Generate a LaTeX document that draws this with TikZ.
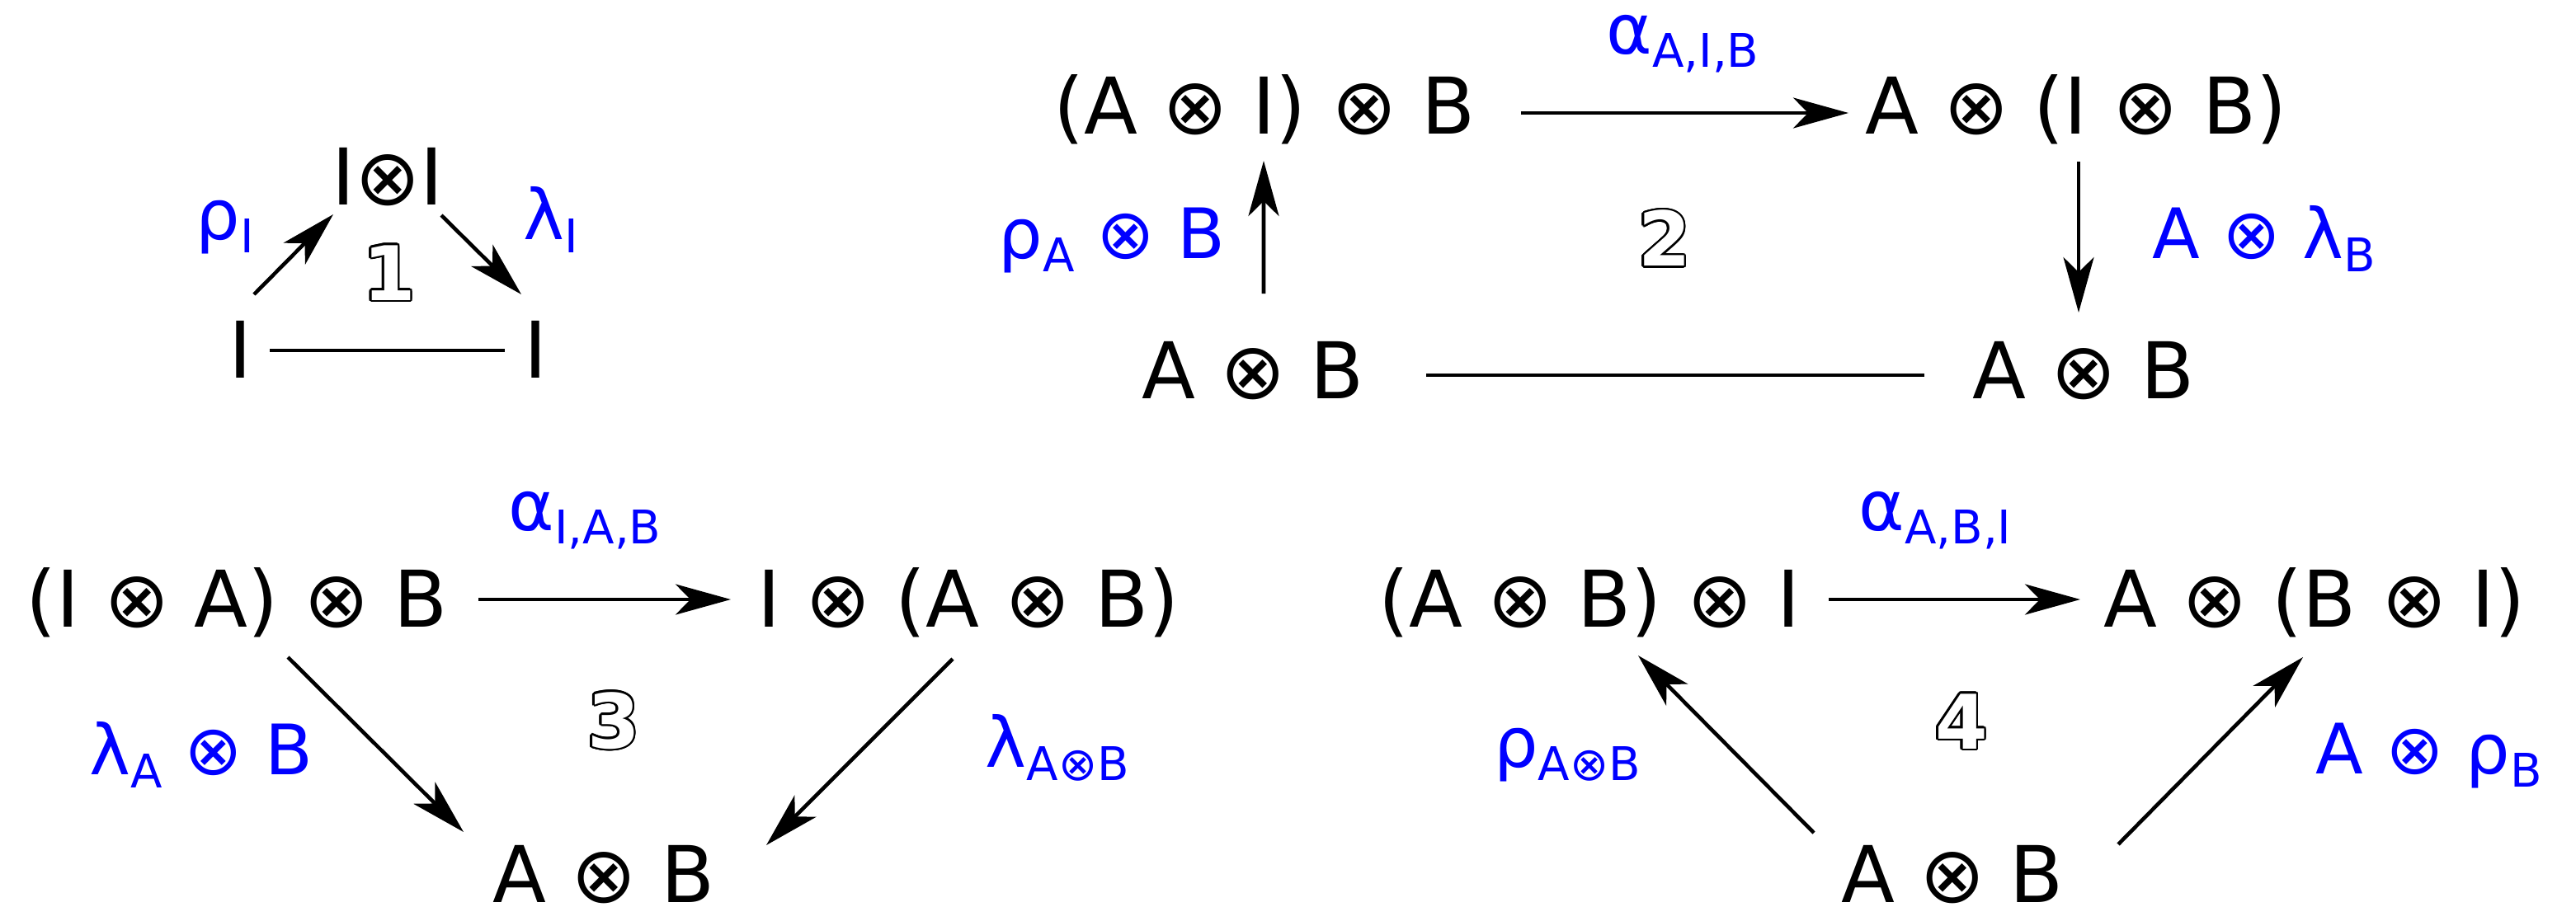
\documentclass[tikz,border=0pt]{standalone}
\usepackage{fontspec}
\setmainfont{DejaVu Sans}
\usetikzlibrary{arrows.meta}
\newcommand{\sub}[1]{\raisebox{-4.8pt}{\fontsize{16}{16}\selectfont #1}}
% outlined number: black copies round the spot, white one on top
\newcommand{\outnum}[3]{%
	\foreach \a in {0,20,...,340}
		\node[num] at ([shift={(\a:0.024)}]#2) {#3};
	\node[num,text=white] (#1) at (#2) {#3};}
\tikzset{obj/.style={anchor=base,inner sep=0pt,font=\fontsize{27}{32}\selectfont},
	lbl/.style={anchor=base,inner sep=0pt,text=blue,font=\fontsize{24}{28}\selectfont},
	num/.style={inner sep=0pt,font=\fontsize{26}{32}\selectfont\bfseries},
	arr/.style={line width=1.3pt,-{Stealth[length=6.7mm,width=3.7mm,inset=1.8mm]}},
	eqline/.style={line width=1.3pt}}
\begin{document}
\begin{tikzpicture}
\useasboundingbox (0,0) rectangle (31.23,-10.99);
% 1
\node[obj] (iti) at (4.70,-2.48) {I⊗I};
\node[obj] (il) at (2.91,-4.58) {I};
\node[obj] (ir) at (6.49,-4.58) {I};
\outnum{n1}{4.72,-3.31}{1}
\node[lbl] (rhoI) at (2.73,-2.90) {ρ\sub{I}};
\node[lbl] (lamI) at (6.68,-2.90) {λ\sub{I}};
\draw[arr] ([shift={(0.17,1.01)}]il.base) -- ([shift={(-0.66,-0.12)}]iti.base);
\draw[arr] ([shift={(0.65,-0.13)}]iti.base) -- ([shift={(-0.17,1.01)}]ir.base);
\draw[eqline] ([shift={(0.36,0.33)}]il.base) -- ([shift={(-0.37,0.33)}]ir.base);
% 2
\node[obj] (aib) at (15.33,-1.62) {(A ⊗ I) ⊗ B};
\node[obj] (a-ib) at (25.17,-1.62) {A ⊗ (I ⊗ B)};
\node[obj] (ab2l) at (15.19,-4.83) {A ⊗ B};
\node[obj] (ab2r) at (25.26,-4.83) {A ⊗ B};
\outnum{n2}{20.18,-2.89}{2}
\node[lbl] (alpha2) at (20.40,-0.65) {α\sub{A,I,B}};
\node[lbl] (rhoAB) at (13.48,-3.13) {ρ\sub{A} ⊗ B};
\node[lbl] (AlamB) at (27.45,-3.13) {A ⊗ λ\sub{B}};
\draw[arr] ([shift={(3.11,0.25)}]aib.base) -- ([shift={(-2.76,0.25)}]a-ib.base);
\draw[arr] ([shift={(0.13,1.27)}]ab2l.base) -- ([shift={(-0.01,-0.33)}]aib.base);
\draw[arr] ([shift={(0.03,-0.34)}]a-ib.base) -- ([shift={(-0.06,1.04)}]ab2r.base);
\draw[eqline] ([shift={(2.10,0.28)}]ab2l.base) -- ([shift={(-1.93,0.28)}]ab2r.base);
% 3
\node[obj] (iab) at (2.87,-7.60) {(I ⊗ A) ⊗ B};
\node[obj] (i-ab) at (11.74,-7.60) {I ⊗ (A ⊗ B)};
\node[obj] (ab3) at (7.32,-10.94) {A ⊗ B};
\outnum{n3}{7.44,-8.74}{3}
\node[lbl] (alpha3) at (7.09,-6.43) {α\sub{I,A,B}};
\node[lbl] (lamAB) at (2.44,-9.39) {λ\sub{A} ⊗ B};
\node[lbl] (lamAtB) at (12.82,-9.30) {λ\sub{A⊗B}};
\draw[arr] ([shift={(2.93,0.33)}]iab.base) -- ([shift={(-2.88,0.33)}]i-ab.base);
\draw[arr] ([shift={(0.62,-0.37)}]iab.base) -- ([shift={(-1.70,0.85)}]ab3.base);
\draw[arr] ([shift={(-0.19,-0.39)}]i-ab.base) -- ([shift={(1.97,0.69)}]ab3.base);
% 4
\node[obj] (abi) at (19.27,-7.60) {(A ⊗ B) ⊗ I};
\node[obj] (a-bi) at (28.06,-7.60) {A ⊗ (B ⊗ I)};
\node[obj] (ab4) at (23.67,-10.94) {A ⊗ B};
\outnum{n4}{23.78,-8.75}{4}
\node[lbl] (alpha4) at (23.46,-6.43) {α\sub{A,B,I}};
\node[lbl] (rhoAtB) at (19.00,-9.30) {ρ\sub{A⊗B}};
\node[lbl] (ArhoB) at (29.45,-9.38) {A ⊗ ρ\sub{B}};
\draw[arr] ([shift={(2.90,0.33)}]abi.base) -- ([shift={(-2.84,0.33)}]a-bi.base);
\draw[arr] ([shift={(-1.68,0.84)}]ab4.base) -- ([shift={(0.59,-0.35)}]abi.base);
\draw[arr] ([shift={(2.01,0.70)}]ab4.base) -- ([shift={(-0.14,-0.37)}]a-bi.base);
\end{tikzpicture}
\end{document}
